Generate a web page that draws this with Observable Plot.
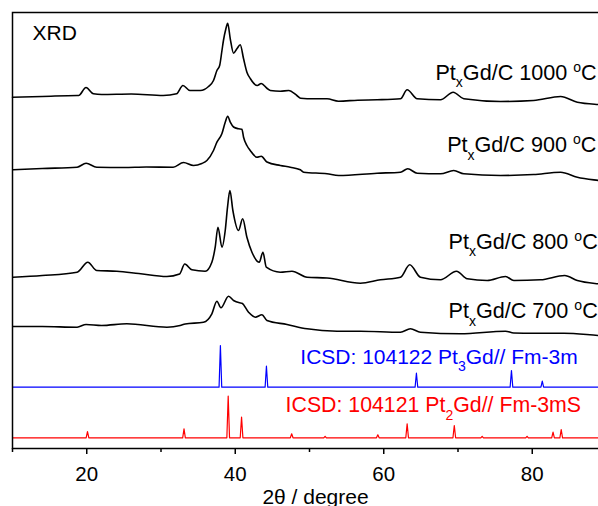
<!DOCTYPE html>
<html><head><meta charset="utf-8">
<script src="https://cdn.jsdelivr.net/npm/d3@7"></script>
<script src="https://cdn.jsdelivr.net/npm/@observablehq/plot@0.6"></script>
<style>html,body{margin:0;padding:0;overflow:hidden;background:#fff}</style>
</head><body><div id="chart"></div>
<script>
// 2θ (degree) vs intensity (a.u., stacked with offsets)
const t1000 = [[10.0,351.3],[14,352],[18.7,353],[18.9,353],[19.9,361],[20.9,354.7],[22,354],[26,354.5],[30.3,353],[32.1,354.7],[32.95,363],[33.9,358],[35.3,358],[36.4,362],[37.07,368],[37.53,378],[37.9,383],[38.21,398],[38.41,408],[38.74,419.7],[38.98,425.3],[39.33,409.7],[39.77,395.3],[40.22,399.7],[40.67,403.7],[41.12,389.7],[41.57,376.3],[42.02,370],[42.96,363],[43.5,365],[44.3,360],[44.72,358],[46.07,357.3],[47.2,358],[48.3,353],[48.8,350.3],[50.56,349.7],[52.36,349.7],[53.9,347.3],[56.5,348.3],[59.1,348.7],[62.25,349.7],[63.15,358.7],[64.5,349.7],[67.64,348.7],[69.35,356.3],[70.78,349.7],[75.73,347],[80.18,348],[83.82,352],[86.07,346.3],[88.94,344],[90,343.5]];
const t900 = [[10.07,278.7],[14,280],[18.7,281.3],[19.91,285.3],[21.35,281.3],[25,281],[28,281.5],[31.64,281.3],[33.03,286],[34.38,283],[35.5,285],[36.18,288],[37.07,298],[37.53,306.3],[38.21,315],[38.65,326.3],[38.98,332.3],[39.33,326.3],[39.77,321.5],[40.44,319.7],[40.9,319.2],[41.12,311.3],[41.57,303],[42.02,298],[42.92,291.3],[43.5,292.3],[44.27,286.5],[46.07,283],[47.41,281.3],[48.76,278.7],[49.21,276.3],[52.36,274.7],[53.93,273],[59.1,275.3],[62.25,276.3],[63.23,279.7],[64.5,275.3],[67.64,274.7],[69.43,278],[70.78,274.7],[75.73,273],[80.18,274],[83.82,276.3],[86.07,271.3],[88.94,268],[90,267]];
const t800 = [[10.07,171.3],[14,173],[18.7,176.3],[20.14,186.3],[21.35,178],[24.05,177.3],[27,175],[30.79,172],[32.5,174.5],[33.2,184.5],[34.16,178.7],[35.95,177.3],[36.85,186.3],[37.3,201.3],[37.67,221.3],[38.21,201.3],[38.65,218],[38.96,241.3],[39.28,258],[39.68,238],[40.44,218],[41.0,229.7],[41.57,211.3],[42.25,196.3],[43.23,186.3],[43.73,196.3],[44.18,181.3],[46.07,176.3],[47.64,177.3],[49.67,171.3],[52.36,170.5],[56.85,165.3],[59.55,168.7],[62.25,171.3],[63.5,183.7],[64.94,171.3],[67.64,168.7],[69.8,177.3],[71.24,169.7],[73.93,168],[76.4,172],[77.52,168],[81.12,168.7],[84.36,173],[86.07,168],[88.94,164.7],[90,164]];
const t700 = [[10.07,122],[14,122],[18.7,121.3],[19.91,124],[22,123],[25.4,124.7],[30.8,121.3],[32.58,123],[33.26,124.5],[35.72,126.3],[36.85,134.7],[37.53,147.3],[38.07,140.7],[39.1,152.3],[39.77,148],[40.58,145.7],[40.9,145.3],[41.79,136.3],[42.7,131.3],[43.6,133.7],[44.27,128],[46.97,124],[49.67,119.7],[53.71,117.3],[56.85,117.3],[62.25,116.3],[63.59,119.7],[64.94,116.3],[70.33,114.7],[76.4,117.3],[77.5,115.5],[80.18,115.3],[84.26,115.3],[88.94,113],[90,112.5]];

// Reference stick patterns
const pt3gdBase = 61.3;
const pt3gdPos = [38.0, 44.2, 64.4, 77.2, 81.35];
const pt3gdInt = [41.7, 21, 14, 16.7, 6];
const pt2gdBase = 10.7;
const pt2gdPos = [20.1, 33.1, 39.05, 40.85, 47.6, 52.1, 59.2, 63.15, 69.5, 73.25, 79.3, 82.8, 83.9];
const pt2gdInt = [6.3, 9, 41.7, 20.7, 4, 1.5, 3, 14, 12.3, 1.5, 1.5, 5.6, 8.3];

// Labels
const labelText = ["Pt_xGd/C 1000 ^oC", "Pt_xGd/C 900 ^oC", "Pt_xGd/C 800 ^oC", "Pt_xGd/C 700 ^oC", "ICSD: 104122 Pt_3Gd// Fm-3m", "ICSD: 104121 Pt_2Gd// Fm-3mS"];
const labelX = [66.96, 68.54, 68.72, 68.72, 48.76, 46.78];
const labelY = [369, 296.3, 199.7, 130.5, 84.7, 36.3];
const labelColor = ["#000", "#000", "#000", "#000", "#0000ff", "#ff0000"];
const labelSize = [21.6, 21.6, 21.6, 21.6, 21, 21.3];

const majorTicks = [20, 40, 60, 80];
const minorTicks = [10, 30, 50, 70, 90];

function stickLine(pos, hts, base) {
  const hw = 0.18;
  const pts = [{x: 10, y: base}];
  pos.forEach((p, i) => { pts.push({x: p - hw, y: base}, {x: p, y: base + hts[i]}, {x: p + hw, y: base}); });
  pts.push({x: 90, y: base});
  return pts;
}
const labels = labelText.map((t, i) => ({text: t, x: labelX[i], y: labelY[i], c: labelColor[i], s: labelSize[i]}));

const font = "'Liberation Sans', Arial, sans-serif";
const svg = Plot.plot({
  width: 620, height: 506,
  marginLeft: 12, marginRight: 14, marginTop: 12, marginBottom: 58,
  style: {fontFamily: font, fontSize: "20px", background: "#fff", maxWidth: "none"},
  x: {domain: [10, 90]},
  y: {domain: [0, 436], axis: null},
  marks: [
    ...[t1000, t900, t800, t700].map(t => Plot.line(t, {x: d => d[0], y: d => d[1], stroke: "#000", strokeWidth: 1.6, curve: "monotone-x"})),
    Plot.line(stickLine(pt3gdPos, pt3gdInt, pt3gdBase), {x: "x", y: "y", stroke: "#0000ff", strokeWidth: 1.2}),
    Plot.line(stickLine(pt2gdPos, pt2gdInt, pt2gdBase), {x: "x", y: "y", stroke: "#ff0000", strokeWidth: 1.2}),
    Plot.frame({stroke: "#000", strokeWidth: 1.5}),
    Plot.axisX(majorTicks, {tickSize: 6, tickPadding: 12, fontSize: 20.5, strokeWidth: 1.5, label: null, fill: "#000"}),
    Plot.axisX(minorTicks, {tickSize: 4, strokeWidth: 1.5, tickFormat: () => "", label: null}),
    ...labels.map(l => Plot.text([l], {x: "x", y: "y", text: "text", fill: "c", fontSize: l.s, textAnchor: "start", lineAnchor: "bottom"})),
    Plot.text(["XRD"], {frameAnchor: "top-left", dx: 20, dy: 27, text: d => d, fontSize: 21, textAnchor: "start", lineAnchor: "bottom", fill: "#000"}),
    Plot.text(["2θ / degree"], {frameAnchor: "bottom", dx: 6, dy: 55, text: d => d, fontSize: 21, lineAnchor: "bottom", fill: "#000"})
  ]
});
svg.style.maxWidth = "none";
svg.style.width = "620px";
svg.style.height = "506px";

// Render sub/superscripts as tspans
d3.select(svg).selectAll("text").each(function() {
  const s = this.textContent;
  if (!/[_^]/.test(s)) return;
  const el = d3.select(this);
  this.textContent = "";
  const re = /([_^])(\w)/g;
  let last = 0, m;
  const parts = [];
  while ((m = re.exec(s))) { parts.push({t: s.slice(last, m.index), k: null}); parts.push({t: m[2], k: m[1]}); last = re.lastIndex; }
  parts.push({t: s.slice(last), k: null});
  let cur = 0;
  for (const p of parts) {
    if (!p.t) continue;
    const target = p.k === "_" ? 7.5 : p.k === "^" ? -8 : 0;
    const ts = el.append("tspan").text(p.t).attr("dy", target - cur);
    if (p.k) ts.attr("font-size", 14);
    cur = target;
  }
});
document.getElementById("chart").appendChild(svg);
</script>
</body></html>
